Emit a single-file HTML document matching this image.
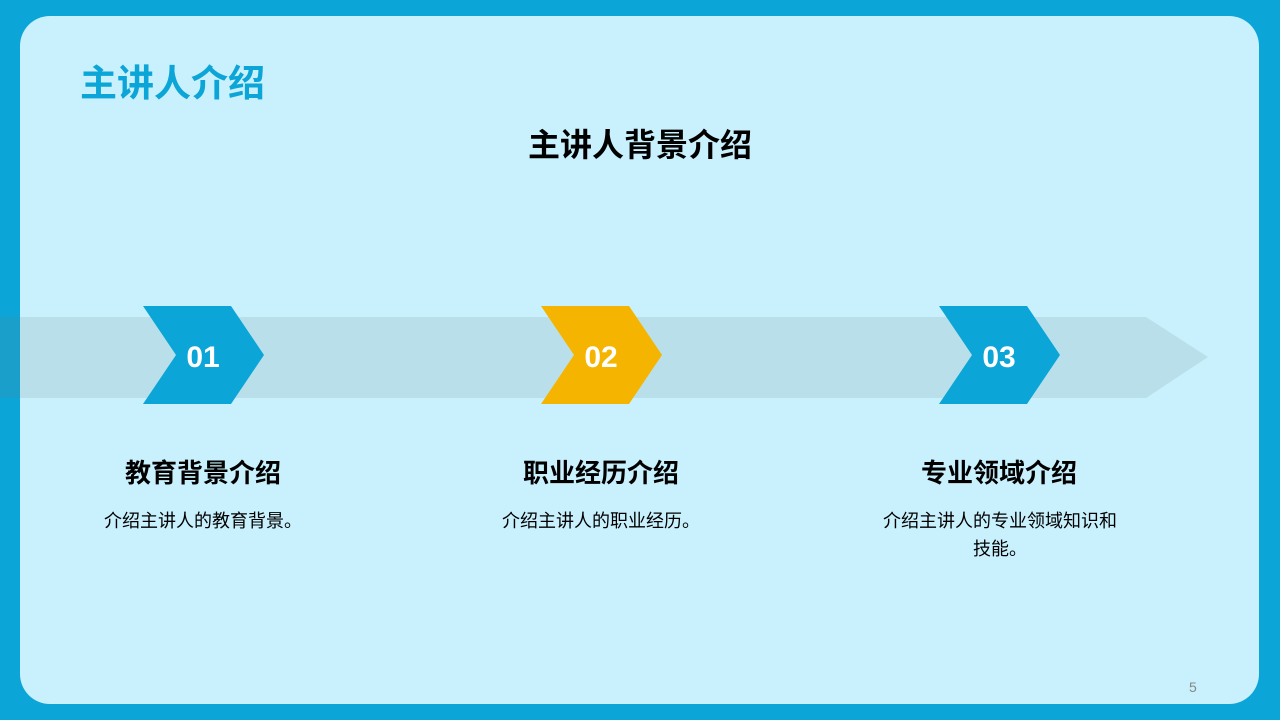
<!DOCTYPE html>
<html><head><meta charset="utf-8"><style>
body{margin:0;width:1280px;height:720px;background:#0ba5d8;position:relative;overflow:hidden;font-family:"Liberation Sans","Noto Sans CJK SC",sans-serif}
.card{position:absolute;left:20px;top:16px;width:1239px;height:688px;background:#c8f0fd;border-radius:30px}
.t{position:absolute;white-space:nowrap}
</style></head><body>
<div class="card"></div>
<svg style="position:absolute;left:0;top:0" width="1280" height="720">
<polygon points="20,317 1146,317 1208,357 1146,398 20,398" fill="#b9e0ea"/>
<rect x="0" y="317" width="20" height="81" fill="#1a9fcb"/>
<polygon points="143,306 231,306 264,355 231,404 143,404 176,355" fill="#0ba5d8"/>
<polygon points="541,306 629,306 662,355 629,404 541,404 574,355" fill="#f5b400"/>
<polygon points="939,306 1027,306 1060,355 1027,404 939,404 972,355" fill="#0ba5d8"/>
<g font-family="Liberation Sans" font-weight="bold" font-size="30" fill="#fff" text-anchor="middle">
<text x="203" y="367">01</text><text x="601" y="367">02</text><text x="999" y="367">03</text></g>
</svg>
<div class="t" style="left:80px;top:53px;font-size:37px;font-weight:bold;color:#0ba5d8">主讲人介绍</div>
<div class="t" style="left:0;width:1280px;text-align:center;top:120px;font-size:32px;font-weight:bold;color:#000">主讲人背景介绍</div>
<div class="t" style="left:103px;width:200px;text-align:center;top:453px;font-size:26px;font-weight:bold">教育背景介绍</div>
<div class="t" style="left:501px;width:200px;text-align:center;top:453px;font-size:26px;font-weight:bold">职业经历介绍</div>
<div class="t" style="left:899px;width:200px;text-align:center;top:453px;font-size:26px;font-weight:bold">专业领域介绍</div>
<div class="t" style="left:53px;width:300px;text-align:center;top:507px;font-size:18px">介绍主讲人的教育背景。</div>
<div class="t" style="left:451px;width:300px;text-align:center;top:507px;font-size:18px">介绍主讲人的职业经历。</div>
<div style="position:absolute;left:878px;width:244px;text-align:center;top:507px;font-size:18px;line-height:28px">介绍主讲人的专业领域知识和技能。</div>
<div class="t" style="left:1189px;top:679px;font-size:14px;color:#888">5</div>
</body></html>
